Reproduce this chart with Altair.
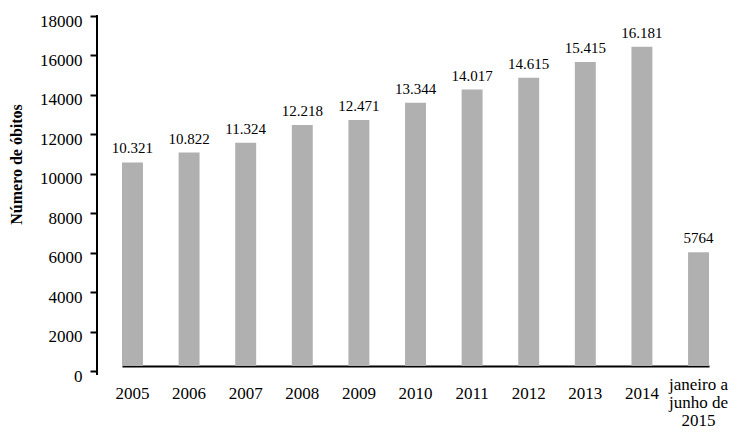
import altair as alt
import pandas as pd

categories = ["2005", "2006", "2007", "2008", "2009", "2010", "2011", "2012",
              "2013", "2014", "janeiro a\njunho de\n2015"]
values = [10321, 10822, 11324, 12218, 12471, 13344, 14017, 14615, 15415, 16181, 5764]
labels = ["10.321", "10.822", "11.324", "12.218", "12.471", "13.344", "14.017",
          "14.615", "15.415", "16.181", "5764"]
y_ticks = [0, 2000, 4000, 6000, 8000, 10000, 12000, 14000, 16000, 18000]

df = pd.DataFrame({"cat": categories, "v": values, "lab": labels})

FONT = "Liberation Serif"

x = alt.X(
    "cat:N", sort=categories, title=None,
    scale=alt.Scale(range=[25, 612], paddingInner=0.63, paddingOuter=0),
    axis=alt.Axis(
        labelExpr="split(datum.label, '\\n')",
        labelAngle=0, labelFont=FONT, labelFontSize=17, labelColor="black",
        labelLineHeight=18, labelBaseline="top", labelOverlap=False,
        labelPadding={"expr": "datum.index == 1 ? 10 : 19"},
        ticks=False, domainColor="black", domainWidth=2,
    ),
)
y = alt.Y(
    "v:Q", title="Número de óbitos",
    scale=alt.Scale(domain=[0, 18000], nice=False),
    axis=alt.Axis(
        values=y_ticks, format="d", labelOverlap=False, grid=False,
        labelFont=FONT, labelFontSize=17, labelColor="black", labelPadding=8,
        labelOffset=5, tickOffset=5, tickSize=7, tickColor="black", tickWidth=2,
        domain=False,
        titleFont=FONT, titleFontSize=16, titleFontWeight="bold",
        titleColor="black", titleX=-81, titleY=153, titleBaseline="middle",
    ),
)

base = alt.Chart(df).encode(x=x, y=y)
bars = base.mark_bar(color="#b0b0b0")
text = base.mark_text(
    font=FONT, fontSize=15, color="black", baseline="bottom", dy=-6
).encode(text="lab:N")
yline = alt.Chart(df).mark_rule(color="black", strokeWidth=2).encode(
    x=alt.value(0), y=alt.value(4), y2=alt.value(364)
)

chart = (bars + text + yline).properties(
    width=648, height=355,
    autosize=alt.AutoSizeParams(type="none"),
    padding={"left": 89, "top": 3, "right": 2, "bottom": 64},
).configure_view(stroke=None).configure_axis(labelFont=FONT, titleFont=FONT)

chart.save("out.html", embed_options={"renderer": "svg", "actions": False})
